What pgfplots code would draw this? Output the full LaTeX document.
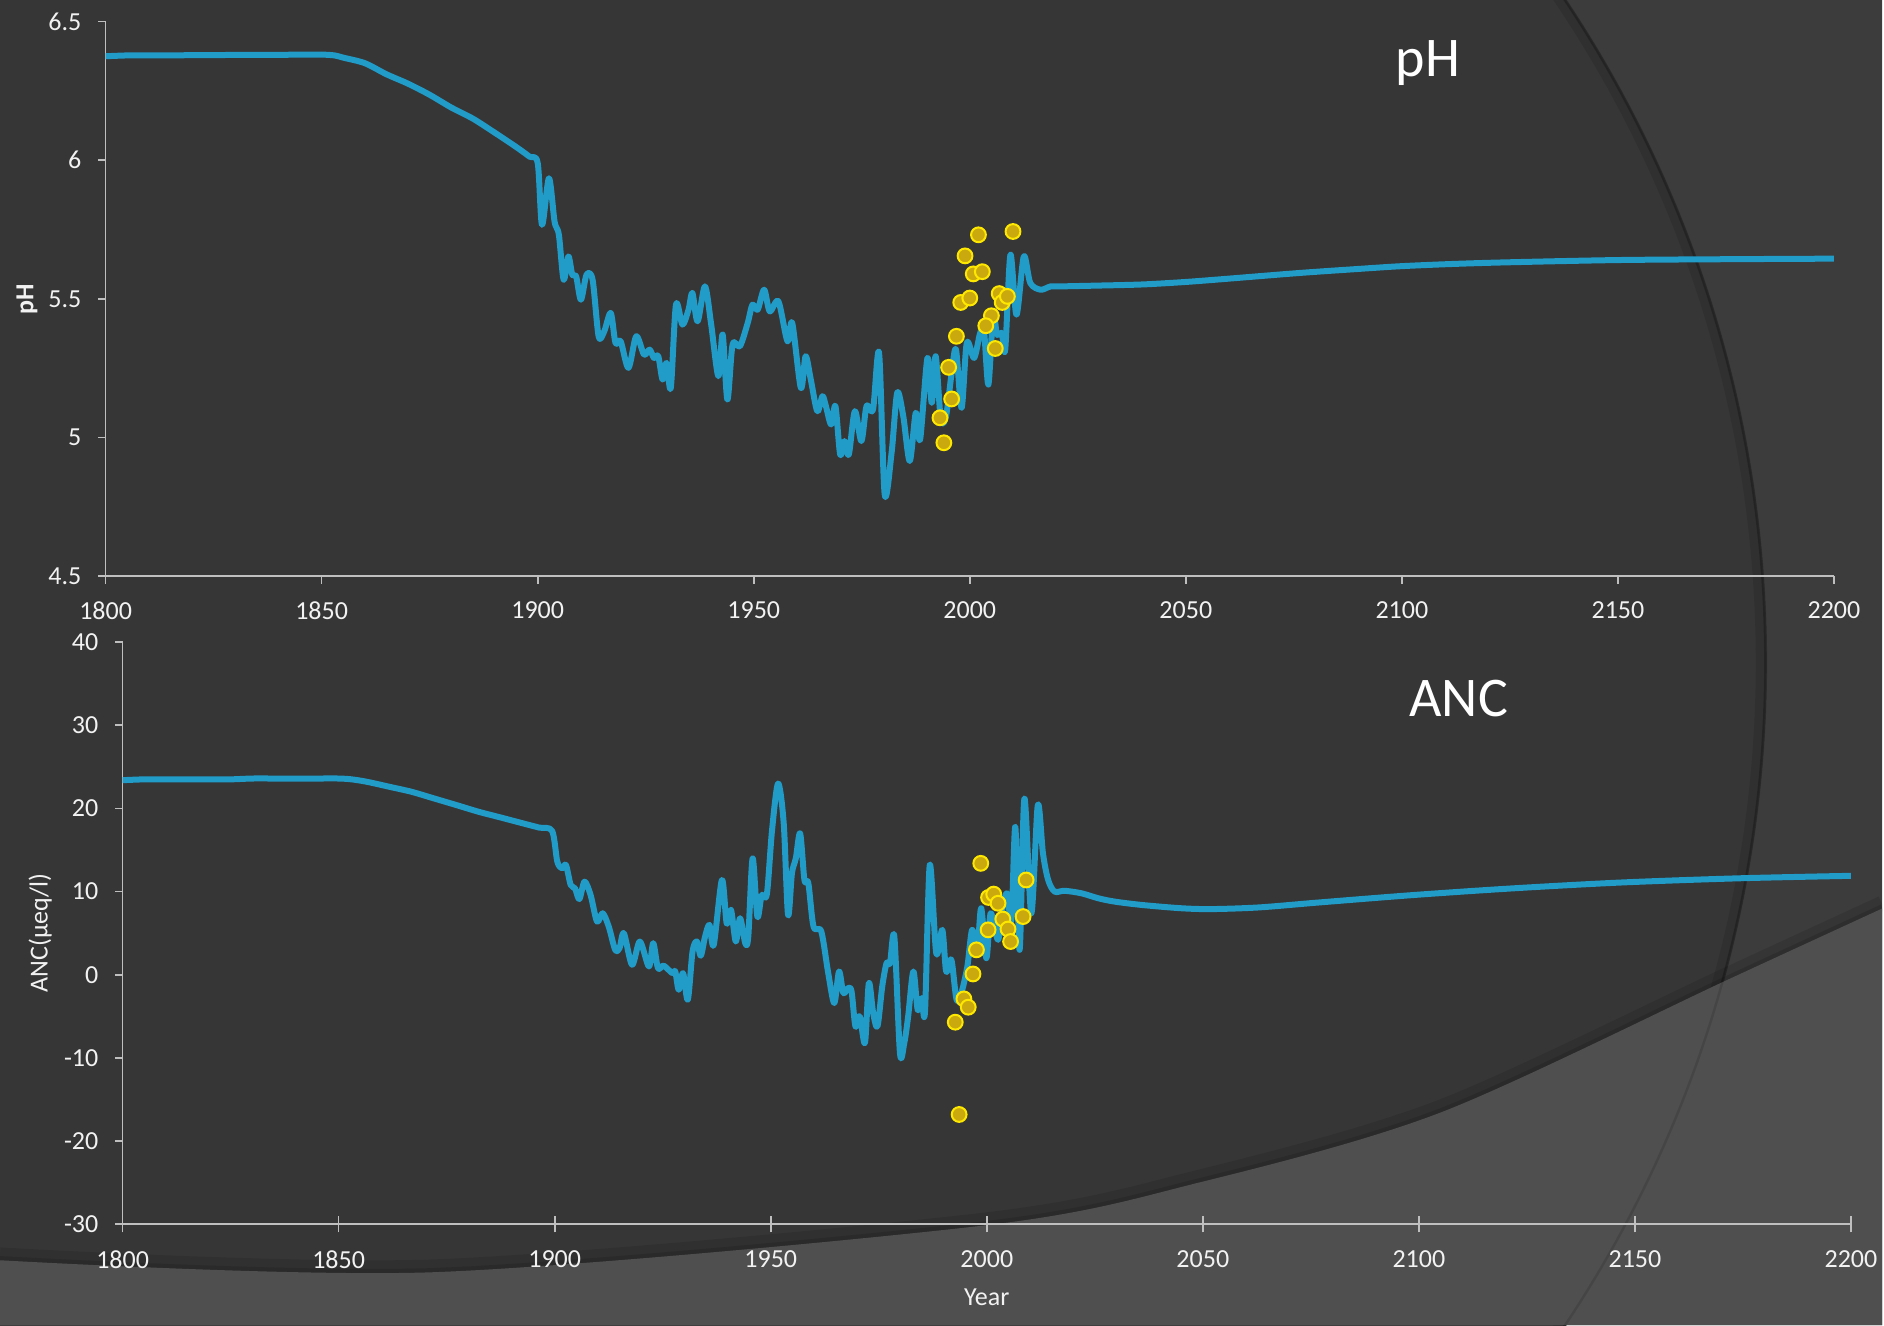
\documentclass[border=0pt]{standalone}
\usepackage{pgfplots}
\pgfplotsset{compat=1.18}
\usepackage{fontspec}
\setmainfont{Carlito}
\definecolor{bgmain}{HTML}{363636}
\definecolor{bgout}{HTML}{3C3C3C}
\definecolor{bglow}{HTML}{4F4F4F}
\definecolor{axgray}{HTML}{BFBFBF}
\definecolor{tickwhite}{HTML}{F2F2F2}
\definecolor{lineblue}{HTML}{219BC8}
\definecolor{markfill}{HTML}{C9A90E}
\definecolor{markedge}{HTML}{FFE800}

\pgfplotstableread{
x y
1800 6.375
1805 6.378
1810 6.378
1815 6.378
1820 6.379
1825 6.379
1830 6.380
1835 6.380
1840 6.380
1845 6.381
1850 6.381
1853 6.378
1855 6.370
1860 6.350
1865 6.310
1870 6.276
1875 6.236
1880 6.190
1885 6.150
1890 6.100
1895 6.048
1898.1 6.013
1900 5.990
1901 5.767
1902.6 5.935
1903.9 5.779
1904.9 5.731
1906.0 5.569
1907.1 5.653
1908.0 5.587
1908.9 5.581
1910.0 5.497
1911.3 5.587
1912.7 5.569
1914.1 5.365
1915.4 5.383
1916.9 5.449
1918.0 5.341
1919.2 5.347
1921.0 5.251
1922.8 5.365
1924.6 5.299
1925.9 5.317
1926.9 5.287
1927.9 5.293
1928.9 5.209
1929.8 5.269
1930.8 5.179
1932.0 5.479
1933.5 5.407
1934.9 5.461
1935.8 5.521
1937.0 5.419
1938.7 5.545
1940.1 5.413
1941.8 5.221
1942.8 5.371
1943.9 5.137
1945.1 5.335
1946.8 5.329
1948.6 5.413
1949.7 5.479
1950.9 5.461
1952.4 5.533
1953.7 5.455
1955.7 5.491
1957.8 5.347
1958.9 5.413
1960.9 5.179
1962.0 5.293
1963.2 5.209
1964.7 5.095
1965.9 5.149
1966.7 5.113
1967.9 5.047
1968.9 5.113
1970.0 4.939
1971.0 4.987
1972.0 4.939
1973.4 5.095
1974.9 4.987
1976.1 5.113
1977.6 5.101
1979.0 5.305
1980.3 4.795
1981.9 4.945
1983.2 5.161
1984.6 5.077
1986.1 4.915
1987.5 5.089
1988.5 4.993
1990.2 5.287
1991.2 5.125
1992.1 5.293
1993.3 5.065
1994.5 5.077
1995.8 5.233
1996.8 5.317
1998.1 5.107
1999.3 5.341
2001.0 5.287
2002.4 5.377
2003.3 5.383
2004.3 5.191
2005.4 5.443
2006.3 5.371
2007.4 5.377
2008.2 5.317
2009.4 5.659
2010.8 5.443
2012.5 5.653
2014.0 5.557
2016.4 5.533
2018.7 5.545
2021.0 5.545
2030 5.548
2040 5.552
2050 5.561
2060 5.573
2076 5.593
2090 5.608
2100 5.618
2112 5.626
2125 5.632
2150 5.640
2175 5.643
2200 5.645
}\phmodel

\pgfplotstableread{
x y
2002.0 5.731
2010.0 5.743
1998.9 5.655
2000.8 5.590
2002.9 5.598
1997.9 5.487
2000.0 5.503
2006.8 5.519
2007.5 5.487
2008.7 5.509
2005.0 5.439
2003.7 5.403
1996.9 5.365
2005.9 5.321
1995.1 5.253
1995.8 5.139
1993.1 5.071
1994.0 4.981
}\phobs

\pgfplotstableread{
x y
1800 23.4
1805 23.5
1810 23.5
1815 23.5
1820 23.5
1825 23.5
1830 23.6
1835 23.6
1840 23.6
1845 23.6
1850 23.6
1853 23.5
1856.6 23.2
1861.8 22.6
1866.9 22.0
1872.1 21.2
1877.3 20.4
1882.4 19.6
1887.6 18.9
1892.7 18.2
1896.4 17.7
1899.4 17.3
1900.6 13.6
1901.7 12.8
1902.6 13.2
1903.7 10.8
1904.7 10.4
1905.7 9.1
1906.9 11.2
1908.3 9.6
1909.8 6.4
1911.1 7.4
1912.5 5.8
1914.0 3.0
1915.0 3.2
1916.0 5.0
1917.9 1.2
1919.7 4.0
1921.8 1.0
1922.8 3.8
1923.9 0.8
1925.2 1.1
1927.2 0.2
1927.9 0.4
1928.7 -1.8
1929.7 0.2
1930.8 -3.0
1931.9 2.8
1932.9 4.0
1933.8 2.3
1934.8 4.6
1935.8 6.0
1936.8 3.6
1938.7 11.4
1939.8 6.2
1940.8 7.8
1941.9 4.0
1942.9 6.8
1944.1 3.8
1944.8 4.6
1945.8 14.0
1946.9 7.0
1947.9 9.6
1949.1 9.7
1950.3 17.4
1951.7 23.0
1953.0 18.2
1954.0 7.2
1954.9 12.2
1955.8 14.0
1956.8 17.0
1957.8 11.4
1958.7 11.0
1959.9 5.8
1961.7 5.2
1963.3 0.2
1964.7 -3.4
1965.8 0.4
1966.8 -2.2
1967.9 -1.6
1968.7 -2.0
1969.6 -6.2
1970.6 -5.0
1971.8 -8.2
1972.7 -1.0
1973.7 -4.6
1974.7 -6.2
1975.8 -1.4
1976.8 1.4
1977.6 1.4
1978.6 4.6
1979.9 -9.4
1980.9 -8.2
1981.8 -5.0
1983.0 0.4
1984.0 -4.2
1984.9 -2.8
1985.7 -4.4
1986.8 13.2
1988.3 2.6
1989.7 5.4
1990.6 0.4
1991.8 1.8
1993.0 -3.0
1994.1 -2.2
1995.5 1.0
1996.6 5.4
1997.8 3.0
1998.7 8.0
1999.9 2.0
2000.9 7.4
2002.6 4.2
2003.7 8.2
2004.7 9.8
2005.7 6.6
2006.6 17.8
2007.6 3.0
2008.7 21.2
2010.3 7.4
2011.8 20.4
2013.0 14.6
2014.2 11.4
2015.7 10.0
2018.0 10.1
2021.9 9.8
2025.8 9.2
2029.6 8.8
2035.8 8.4
2045 8.0
2052 7.9
2063 8.1
2077 8.7
2099 9.6
2122 10.4
2147 11.1
2174 11.6
2200 11.9
}\ancmodel

\pgfplotstableread{
x y
1998.6 13.4
2000.4 9.3
2001.6 9.7
2002.6 8.6
2000.3 5.4
2003.7 6.7
2004.9 5.5
2005.5 4.0
2008.4 7.0
2009.1 11.4
1996.8 0.1
1997.6 3.0
1994.7 -2.9
1995.7 -3.9
1992.7 -5.7
1993.6 -16.8
}\ancobs

\pgfplotsset{
  common/.style={
    scale only axis, width=864pt, xmin=1800, xmax=2200,
    axis lines=left,
    axis line style={-, draw=axgray, line width=0.8pt},
    tick style={draw=axgray, line width=0.8pt},
    major tick length=3.8pt,
    tick align=outside,
    ticklabel style={font=\fontsize{13}{15}\selectfont, text=tickwhite},
    /pgf/number format/assume math mode=true,
    xticklabel style={/pgf/number format/1000 sep={}, yshift=-5.5pt},
    yticklabel style={xshift=-4.8pt},
    label style={font=\fontsize{13}{15}\selectfont, text=tickwhite},
  },
  model/.style={draw=lineblue, line width=3pt, smooth, line join=round, line cap=round, mark=none},
  obs/.style={only marks, mark=*, mark size=3.7pt, mark options={fill=markfill, draw=markedge, line width=1pt}},
}

\begin{document}
\begin{tikzpicture}
\begin{scope}[x=0.6pt,y=0.6pt]
\useasboundingbox (0,0) rectangle (1568,1104);
\fill[bgmain] (0,0) rectangle (1568,1104);
\begin{scope}
\clip (0,0) rectangle (1568,1104);
\fill[bgout, even odd rule] (0,0) rectangle (1568,1104) (476,552) circle (996);
\draw[black, opacity=0.10, line width=5pt] (476,552) circle (991);
\draw[black, opacity=0.15, line width=1.5pt] (476,552) circle (995);
\draw[black, opacity=0.10, line width=8pt] plot[smooth] coordinates {(0,58) (360,48) (820,87) (1000,123) (1200,181) (1440,292) (1568,351)};
\draw[black, opacity=0.12, line width=3pt] plot[smooth] coordinates {(0,55) (360,45) (820,84) (1000,120) (1200,178) (1440,289) (1568,348)};
\fill[bglow] plot[smooth] coordinates {(0,54) (360,44) (820,83) (1000,119) (1200,177) (1440,288) (1568,347)} -- (1568,0) -- (0,0) -- cycle;
\draw[black, opacity=0.12, line width=1.2pt] (476,552) circle (995);
\end{scope}
\end{scope}

\begin{axis}[common,
  at={(52.8pt,374.4pt)}, anchor=south west,
  height=277.2pt,
  ymin=4.5, ymax=6.5,
  xtick={1800,1850,...,2200},
  ytick={4.5,5,5.5,6,6.5},
  ylabel={\textbf{pH}},
  ylabel style={at={(axis description cs:-0.0455,0.5)}, anchor=center},
]
\addplot[model] table {\phmodel};
\addplot[obs] table {\phobs};
\node[font=\fontsize{28}{32}\selectfont, text=white] at (axis description cs:0.765,0.926) {pH};
\end{axis}

\begin{axis}[common,
  at={(61.3pt,50.4pt)}, anchor=south west,
  height=291pt,
  ymin=-30, ymax=40,
  xtick=\empty,
  extra x ticks={1800,1850,...,2200},
  extra x tick style={tick align=center, major tick length=8pt},
  ytick={-30,-20,...,40},
  ylabel={ANC(µeq/l)},
  ylabel style={at={(axis description cs:-0.0477,0.5)}, anchor=center},
  xlabel={Year},
  xlabel style={at={(axis description cs:0.5,-0.126)}, anchor=center},
]
\addplot[model] table {\ancmodel};
\addplot[obs] table {\ancobs};
\node[font=\fontsize{28}{32}\selectfont, text=white] at (axis description cs:0.773,0.903) {ANC};
\end{axis}
\end{tikzpicture}
\end{document}
